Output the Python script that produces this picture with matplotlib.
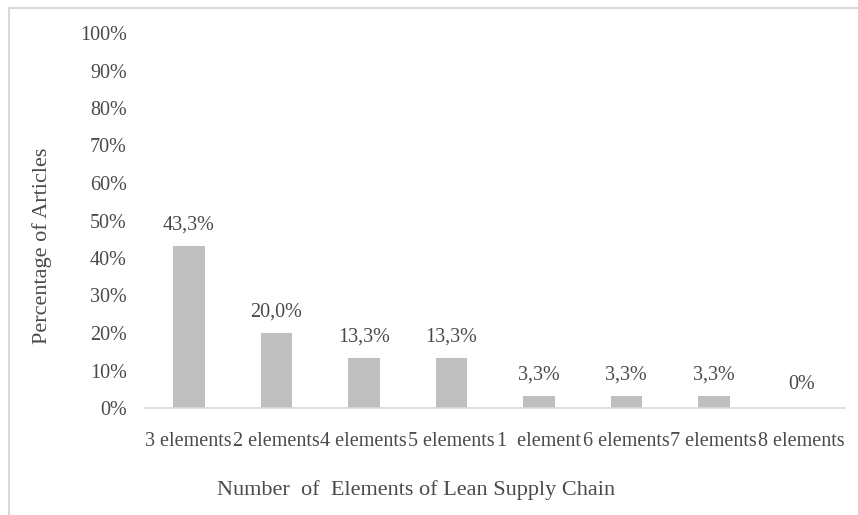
import matplotlib.pyplot as plt
from matplotlib.patches import Rectangle

# data
categories = ['3 elements', '2 elements', '4 elements', '5 elements',
              '1  element', '6 elements', '7 elements', '8 elements']
values = [43.3, 20.0, 13.3, 13.3, 3.3, 3.3, 3.3, 0]
labels = ['43,3%', '20,0%', '13,3%', '13,3%', '3,3%', '3,3%', '3,3%', '0%']
yticks = list(range(0, 101, 10))

plt.rcParams['font.family'] = ['Liberation Serif', 'DejaVu Serif']
txt = '#4a4a4a'

fig = plt.figure(figsize=(8.58, 5.15), dpi=100)
ax = fig.add_axes([145 / 858, 1 - 408 / 515, 700 / 858, 375 / 515])

# outer chart border
fig.patches.append(Rectangle((9 / 858, -0.1), 1.0, 1 - 8 / 515 + 0.1,
                             transform=fig.transFigure, fill=False,
                             edgecolor='#D9D9D9', linewidth=1.5))

x = list(range(len(categories)))
ax.bar(x, values, width=0.36, color='#BFBFBF')

for xi, v, lab in zip(x, values, labels):
    ax.annotate(lab, (xi, v), xytext=(0, 8 if v > 0 else 10),
                textcoords='offset points', ha='center', va='bottom',
                fontsize=14.5, color=txt)

ax.set_xlim(-0.5, len(categories) - 0.5)
ax.set_ylim(0, 100)
ax.set_yticks(yticks)
ax.set_yticklabels([f'{t}%' for t in yticks])
ax.set_xticks(x)
ax.set_xticklabels(categories)
ax.tick_params(axis='both', length=0, labelsize=14.5, colors=txt)
ax.tick_params(axis='y', pad=13)
ax.tick_params(axis='x', pad=17)

for s in ['top', 'right', 'left']:
    ax.spines[s].set_visible(False)
ax.spines['bottom'].set_color('#D9D9D9')
ax.spines['bottom'].set_linewidth(1.2)

fig.text(42 / 858, 1 - 246 / 515, 'Percentage of Articles', rotation=90,
         ha='center', va='center', fontsize=16, color=txt)
fig.text(416 / 858, 1 - 490 / 515, 'Number  of  Elements of Lean Supply Chain',
         ha='center', va='center', fontsize=16, color=txt)

fig.savefig('out.png', dpi=100)
